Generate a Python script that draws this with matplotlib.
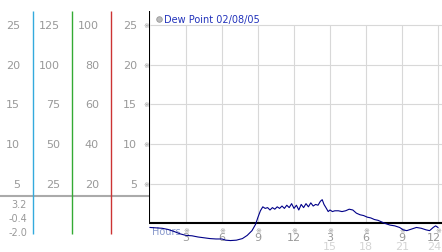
import numpy as np
import matplotlib
matplotlib.use("Agg")
import matplotlib.pyplot as plt

# dew point readings (hour of day, value)
hours = [0.0, 0.5, 1.0, 1.5, 2.0, 2.5, 3.0, 3.5, 4.0, 4.5, 5.0, 5.5, 6.0, 6.3, 6.7,
         7.2, 7.7, 8.1, 8.5, 8.8, 9.0, 9.2, 9.4, 9.6, 9.8, 10.0, 10.2, 10.4, 10.6,
         10.8, 11.0, 11.2, 11.4, 11.6, 11.8, 12.0, 12.2, 12.4, 12.6, 12.8, 13.0,
         13.2, 13.4, 13.6, 13.8, 14.0, 14.2, 14.35, 14.5, 14.7, 14.85, 15.0, 15.2,
         15.4, 15.7, 16.0, 16.3, 16.6, 16.9, 17.2, 17.5, 17.8, 18.1, 18.4, 18.7,
         19.0, 19.3, 19.6, 20.0, 20.4, 20.8, 21.1, 21.4, 21.8, 22.2, 22.6, 23.0,
         23.3, 23.6, 23.8, 24.0]
dew = [-0.5, -0.55, -0.6, -0.75, -1.0, -1.3, -1.5, -1.55, -1.7, -1.8, -1.9, -1.95,
       -1.95, -2.1, -2.15, -2.1, -1.9, -1.5, -0.9, -0.1, 0.8, 1.6, 2.1, 1.9, 2.0,
       1.7, 2.0, 1.8, 2.1, 1.9, 2.2, 1.9, 2.3, 2.0, 2.5, 1.9, 2.3, 1.7, 2.4, 2.0,
       2.5, 2.1, 2.6, 2.2, 2.4, 2.3, 2.8, 3.0, 2.4, 1.9, 1.5, 1.7, 1.5, 1.6, 1.6,
       1.5, 1.6, 1.8, 1.7, 1.3, 1.1, 1.0, 0.8, 0.7, 0.5, 0.4, 0.2, 0.0, -0.2, -0.3,
       -0.5, -0.8, -0.9, -0.7, -0.5, -0.6, -0.8, -0.9, -0.5, -0.3, -0.5]

y_ticks = [25, 20, 15, 10, 5]
col1_labels = ['25', '20', '15', '10', '5']
col2_labels = ['125', '100', '75', '50', '25']
col3_labels = ['100', '80', '60', '40', '20']
col4_labels = ['25', '20', '15', '10', '5']
x_ticks = [3, 6, 9, 12, 15, 18, 21, 24]
x_labels = ['3', '6', '9', '12', '3', '6', '9', '12']
x_labels2 = {15: '15', 18: '18', 21: '21', 24: '24'}
stat_labels = ['3.2', '-0.4', '-2.0']
stat_pos = [2.46, 0.69, -1.07]
legend_label = 'Dew Point 02/08/05'

W, H = 442, 253
ylo, yhi = -3.59, 28.27
xmax = 24.333

fig = plt.figure(figsize=(W / 100, H / 100), dpi=100)

# main chart
ax = fig.add_axes([149 / W, 0, (W - 149) / W, 1])
ax.set_xlim(-0.083, xmax)
ax.set_ylim(ylo, yhi)
ax.axis('off')

for v in y_ticks:
    ax.hlines(v, 0, xmax, color='#d8d8d8', lw=0.8, zorder=1)
    ax.text(-0.33, v, '※', fontsize=5, color='#999999', ha='center', va='center')
for h in x_ticks:
    ax.vlines(h, 0, 25, color='#d8d8d8', lw=0.8, zorder=1)
    ax.text(h, -0.82, '※', fontsize=5, color='#999999', ha='center', va='center')

ax.vlines(-0.05, 0, 26.7, color='black', lw=1.5, zorder=3)
ax.hlines(0.03, -0.05, xmax, color='black', lw=1.5, zorder=3)


def tick_xy(h):
    # keep the last label inside the canvas
    if h >= 24:
        return xmax - 0.05, 'right'
    return h, 'center'


for h, lab in zip(x_ticks, x_labels):
    xx, ha = tick_xy(h)
    ax.text(xx, -1.75, lab, fontsize=8, color='#999999', ha=ha, va='center')
for h, lab in x_labels2.items():
    xx, ha = tick_xy(h)
    ax.text(xx, -2.85, lab, fontsize=8, color='#d4d4d4', ha=ha, va='center')
ax.text(0.2, -0.95, 'Hours', fontsize=7, color='#8899cc', ha='left', va='center')

ax.plot(hours, dew, color='#000088', lw=0.8, zorder=4, clip_on=False)

ax.plot([0.75], [25.8], 'o', ms=4, mfc='#bbbbbb', mec='#999999', mew=0.6)
ax.text(1.2, 25.8, legend_label, fontsize=7, color='#2233bb', ha='left', va='center')

# left scale panel
axl = fig.add_axes([0, 0, 149 / W, 1])
axl.set_xlim(0, 149)
axl.set_ylim(ylo, yhi)
axl.axis('off')

for labels, xr in [(col1_labels, 20), (col2_labels, 60), (col3_labels, 99), (col4_labels, 137)]:
    for v, lab in zip(y_ticks, labels):
        axl.text(xr, v, lab, fontsize=8, color='#999999', ha='right', va='center')

axl.hlines(3.46, 0, 149, color='#aaaaaa', lw=1.5)
for xl, c in [(33, '#33aadd'), (72, '#33aa33'), (111, '#cc3333')]:
    axl.vlines(xl, -1.32, 26.7, color=c, lw=1)

for lab, v in zip(stat_labels, stat_pos):
    axl.text(27, v, lab, fontsize=7, color='#999999', ha='right', va='center')

fig.savefig('out.png', dpi=100)
